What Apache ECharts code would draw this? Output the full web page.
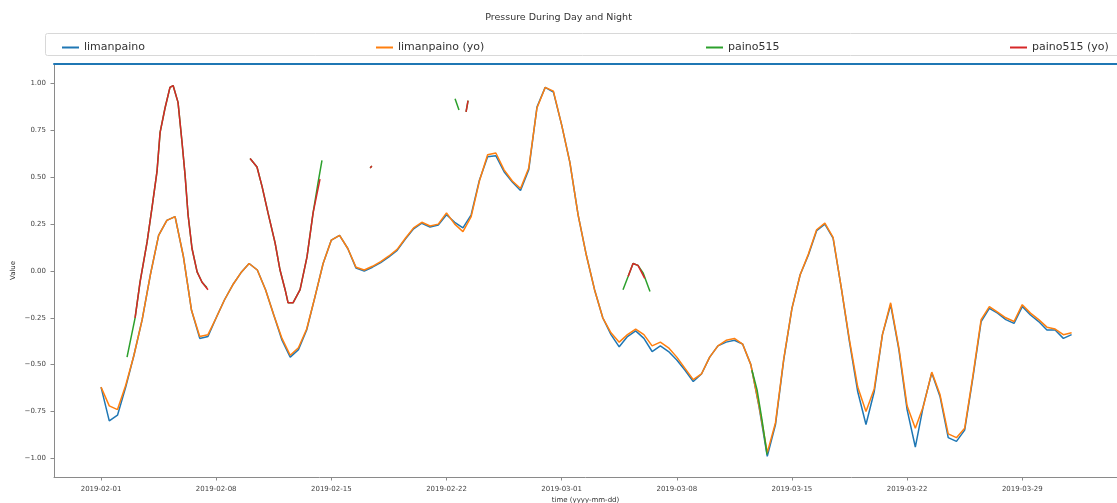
<!DOCTYPE html>
<html><head><meta charset="utf-8">
<script src="https://cdn.jsdelivr.net/npm/echarts@6/dist/echarts.min.js"></script>
<style>html,body{margin:0;padding:0;background:#fff}#c{width:1117px;height:503px}</style>
</head><body><div id="c"></div>
<script>
// x values are days counted from 2019-02-01
const xTickDays = [0, 7, 14, 21, 28, 35, 42, 49, 56];
const xTickLabels = ['2019-02-01','2019-02-08','2019-02-15','2019-02-22','2019-03-01','2019-03-08','2019-03-15','2019-03-22','2019-03-29'];
const yTickValues = [-1, -0.75, -0.5, -0.25, 0, 0.25, 0.5, 0.75, 1];
const seriesNames = ['limanpaino', 'limanpaino (yo)', 'paino515', 'paino515 (yo)'];

// limanpaino sampled every half day from 2019-02-01
const limanpainoValues = [
 -0.62,-0.80,-0.77,-0.62,-0.45,-0.26,-0.02,0.19,0.27,0.29,
 0.08,-0.21,-0.36,-0.35,-0.25,-0.155,-0.075,-0.01,0.04,0.005,
 -0.10,-0.235,-0.37,-0.46,-0.42,-0.315,-0.14,0.04,0.165,0.19,
 0.12,0.015,0.0,0.02,0.045,0.075,0.11,0.17,0.225,0.255,
 0.235,0.245,0.30,0.26,0.23,0.30,0.485,0.61,0.615,0.53,
 0.475,0.43,0.54,0.875,0.98,0.955,0.78,0.58,0.30,0.085,
 -0.10,-0.25,-0.34,-0.405,-0.35,-0.32,-0.36,-0.43,-0.40,-0.43,
 -0.475,-0.53,-0.59,-0.55,-0.46,-0.40,-0.38,-0.37,-0.39,-0.50,
 -0.725,-0.99,-0.82,-0.475,-0.20,-0.02,0.085,0.215,0.25,0.175,
 -0.09,-0.38,-0.645,-0.82,-0.645,-0.34,-0.18,-0.42,-0.74,-0.94,
 -0.715,-0.545,-0.67,-0.89,-0.91,-0.85,-0.57,-0.27,-0.20,-0.225,
 -0.26,-0.28,-0.19,-0.235,-0.27,-0.315,-0.315,-0.36,-0.34
];
const limanpainoYoValues = [
 -0.62,-0.72,-0.74,-0.61,-0.45,-0.26,-0.02,0.19,0.27,0.29,
 0.08,-0.21,-0.35,-0.34,-0.25,-0.155,-0.075,-0.01,0.04,0.005,
 -0.10,-0.235,-0.36,-0.45,-0.41,-0.31,-0.14,0.04,0.165,0.19,
 0.12,0.02,0.005,0.025,0.05,0.08,0.115,0.175,0.23,0.26,
 0.24,0.25,0.31,0.25,0.21,0.29,0.48,0.62,0.63,0.54,
 0.48,0.44,0.55,0.87,0.98,0.96,0.78,0.58,0.30,0.085,
 -0.10,-0.25,-0.33,-0.38,-0.34,-0.31,-0.34,-0.40,-0.38,-0.41,
 -0.46,-0.52,-0.58,-0.55,-0.46,-0.40,-0.37,-0.36,-0.39,-0.50,
 -0.72,-0.97,-0.81,-0.47,-0.20,-0.02,0.09,0.22,0.255,0.18,
 -0.09,-0.37,-0.62,-0.75,-0.63,-0.34,-0.17,-0.41,-0.72,-0.84,
 -0.72,-0.54,-0.66,-0.87,-0.89,-0.84,-0.56,-0.26,-0.19,-0.22,
 -0.25,-0.27,-0.18,-0.225,-0.26,-0.30,-0.31,-0.34,-0.33
];

// paino515: [day, value]; null breaks the line
const paino515Days = [1.58,2.07,2.37,2.80,3.10,3.40,3.59,3.89,4.19,4.38,4.68,4.92,5.11,5.29,5.53,5.84,6.14,6.44,
 7.5, 9.06,9.48,9.79,10.15,10.58,10.88,11.19,11.37,11.67,12.10,12.52,12.89,13.19,13.43,
 14.5, 16.36,16.46, 17.0, 21.52,21.76, 22.0, 22.19,22.31, 25.0, 31.73,32.04,32.34,32.64,32.95,33.37,
 35.0, 39.57,39.88,40.18,40.49];
const paino515Values = [-0.46,-0.25,-0.06,0.155,0.34,0.53,0.74,0.87,0.98,0.99,0.90,0.69,0.51,0.30,0.12,-0.005,-0.06,-0.09,
 null, 0.60,0.555,0.45,0.31,0.15,0.005,-0.10,-0.17,-0.17,-0.10,0.075,0.31,0.47,0.59,
 null, 0.55,0.56, null, 0.92,0.86, null, 0.85,0.91, null, -0.10,-0.03,0.04,0.03,-0.01,-0.11,
 null, -0.53,-0.635,-0.795,-0.98];
const paino515YoDays = [2.07,2.37,2.80,3.10,3.40,3.59,3.89,4.19,4.38,4.68,4.92,5.11,5.29,5.53,5.84,6.14,6.50,
 7.5, 9.06,9.48,9.79,10.15,10.58,10.88,11.19,11.37,11.67,12.10,12.52,12.89,13.31,
 14.5, 16.36,16.46, 17.0, 22.19,22.31, 25.0, 32.04,32.34,32.64,33.05];
const paino515YoValues = [-0.25,-0.06,0.155,0.34,0.53,0.74,0.87,0.98,0.99,0.90,0.69,0.51,0.30,0.12,-0.005,-0.06,-0.10,
 null, 0.60,0.555,0.45,0.31,0.15,0.005,-0.10,-0.17,-0.17,-0.10,0.075,0.31,0.49,
 null, 0.55,0.56, null, 0.85,0.91, null, -0.03,0.04,0.03,-0.04];

const colors = ['#1f77b4', '#ff7f0e', '#2ca02c', '#d62728'];

function pairs(days, vals) { return days.map((d, i) => [d, vals[i]]); }
const mainDays = limanpainoValues.map((_, i) => i * 0.5);

const chart = echarts.init(document.getElementById('c'), null, {renderer: 'canvas'});
const FONT = 'DejaVu Sans';
const legendLefts = [57, 371, 701, 1005];

function lineSeries(name, data, color) {
  return { name, type: 'line', data, showSymbol: false, symbol: 'none', connectNulls: false,
    lineStyle: { color, width: 1.5 }, itemStyle: { color }, animation: false, z: 2 };
}

chart.setOption({
  animation: false,
  color: colors,
  title: { text: 'Pressure During Day and Night', left: 'center', top: 8,
    textStyle: { fontFamily: FONT, fontSize: 9.5, fontWeight: 'normal', color: '#333' } },
  graphic: [{ type: 'rect', left: 45, top: 33, shape: { width: 1090, height: 22, r: 2 },
    style: { fill: '#fff', stroke: '#d8d8d8', lineWidth: 1 }, z: -1 }],
  legend: seriesNames.map((n, i) => ({
    data: [n], left: legendLefts[i], top: 37, icon: 'rect', itemWidth: 17, itemHeight: 2, itemGap: 5,
    textStyle: { fontFamily: FONT, fontSize: 11, color: '#333' }, selectedMode: false
  })),
  grid: { left: 54, right: 0, top: 64, bottom: 26, containLabel: false, outerBoundsMode: 'none' },
  xAxis: [{
    type: 'value', min: -2.86, max: 61.76, position: 'bottom',
    name: 'time (yyyy-mm-dd)', nameLocation: 'middle', nameGap: 20, nameMoveOverlap: false,
    nameTextStyle: { fontFamily: FONT, fontSize: 7, color: '#333' },
    axisLine: { show: true, onZero: false, lineStyle: { color: '#8a8a8a', width: 1 } },
    axisTick: { show: true, length: 3.5, customValues: xTickDays, lineStyle: { color: '#8a8a8a' } },
    axisLabel: { customValues: xTickDays, margin: 9, fontFamily: FONT, fontSize: 7, color: '#444',
      formatter: v => xTickLabels[xTickDays.indexOf(Math.round(v))] || '' },
    splitLine: { show: false }
  }, {
    type: 'value', min: -2.86, max: 61.76, position: 'top',
    axisLine: { show: true, onZero: false, lineStyle: { color: '#1f77b4', width: 2 } },
    axisTick: { show: false }, axisLabel: { show: false }, splitLine: { show: false }
  }],
  yAxis: {
    type: 'value', min: -1.1, max: 1.105,
    name: 'Value', nameLocation: 'middle', nameGap: 37, nameRotate: 90, nameMoveOverlap: false,
    nameTextStyle: { fontFamily: FONT, fontSize: 7, color: '#333' },
    axisLine: { show: true, onZero: false, lineStyle: { color: '#8a8a8a', width: 1 } },
    axisTick: { show: true, length: 3.5, customValues: yTickValues, lineStyle: { color: '#8a8a8a' } },
    axisLabel: { customValues: yTickValues, margin: 8, fontFamily: FONT, fontSize: 7, color: '#444',
      formatter: v => (v < 0 ? '\u2212' : '') + Math.abs(v).toFixed(2) },
    splitLine: { show: false }
  },
  series: [
    lineSeries(seriesNames[0], pairs(mainDays, limanpainoValues), colors[0]),
    lineSeries(seriesNames[1], pairs(mainDays, limanpainoYoValues), colors[1]),
    lineSeries(seriesNames[2], pairs(paino515Days, paino515Values), colors[2]),
    lineSeries(seriesNames[3], pairs(paino515YoDays, paino515YoValues), colors[3])
  ]
});
</script></body></html>
